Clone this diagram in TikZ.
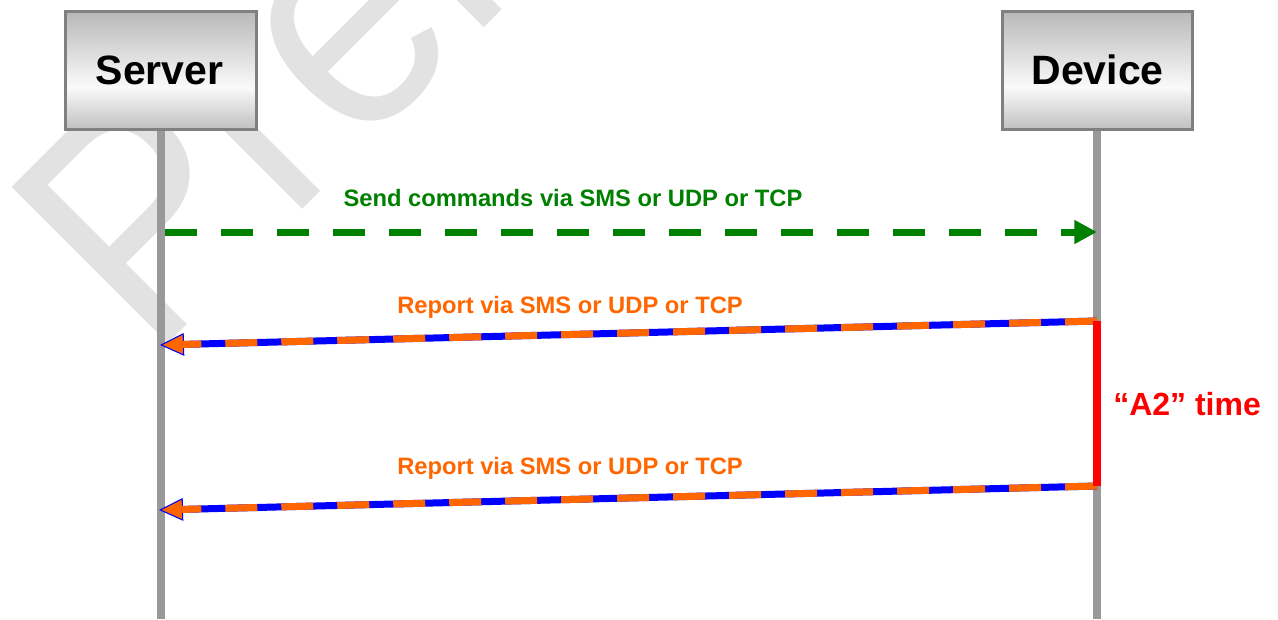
\documentclass[tikz,border=0pt]{standalone}
\usepackage{fontspec}
\setmainfont{Liberation Sans}
\usetikzlibrary{arrows.meta}
\definecolor{wmgray}{RGB}{226,226,226}
\definecolor{lifegray}{RGB}{153,153,153}
\definecolor{boxborder}{RGB}{128,128,128}
\definecolor{cmdgreen}{RGB}{0,128,0}
\definecolor{reporange}{RGB}{255,102,0}
\definecolor{repblue}{RGB}{0,0,255}
\definecolor{a2red}{RGB}{255,0,0}
\definecolor{shT}{RGB}{184,184,184}
\definecolor{shM}{RGB}{250,250,250}
\definecolor{shB}{RGB}{192,192,192}
\pgfdeclareverticalshading{boxshade}{100bp}{color(0bp)=(shB); color(25bp)=(shB); color(43bp)=(shM); color(75bp)=(shT); color(100bp)=(shT)}
\begin{document}
\begin{tikzpicture}[x=0.75pt,y=-0.75pt,
  actor/.style={draw=boxborder, line width=2.2pt, shading=boxshade,
    minimum width=143pt, minimum height=88.5pt, inner sep=0pt,
    font=\fontsize{30.75}{36}\selectfont\bfseries},
  lifeline/.style={draw=lifegray, line width=6pt},
  wm/.style={text=wmgray, inner sep=0pt, font=\fontsize{241}{250}\selectfont},
  cmdlabel/.style={text=cmdgreen, inner sep=0pt, anchor=base, font=\fontsize{17.8}{21}\selectfont\bfseries},
  replabel/.style={text=reporange, inner sep=0pt, anchor=base, font=\fontsize{17.8}{21}\selectfont\bfseries},
  cmdarrow/.style={draw=cmdgreen, line width=5.25pt, dash pattern=on 24pt off 18pt,
    -{Triangle[length=17pt,width=17pt]}},
  repbase/.style={draw=repblue, line width=5.25pt,
    -{Triangle[length=18pt,width=17pt,fill=reporange,line width=0.8pt]}},
  repdash/.style={draw=reporange, line width=5.25pt, dash pattern=on 24pt off 18pt, shorten >=17pt},
  a2line/.style={draw=a2red, line width=6.5pt},
  a2label/.style={text=a2red, inner sep=0pt, anchor=base west, font=\fontsize{24}{28}\selectfont\bfseries}
]
\useasboundingbox (0,0) rectangle (1278,619);
\clip (0,0) rectangle (1278,619);
% watermark
\node[wm, anchor=base west, rotate=45] (wmark) at (151.7,360.3) {\scalebox{0.9}[1]{Preliminary}};
% lifelines
\coordinate (sEnd) at (161,619);
\coordinate (dEnd) at (1097,619);
\coordinate (sTop) at (161,131);
\coordinate (dTop) at (1097,131);
\draw[lifeline] (sTop) -- (sEnd);
\draw[lifeline] (dTop) -- (dEnd);
% actors
\node[actor] (srv) at (161,70.5) {};
\node[actor] (dev) at (1097.5,70.5) {};
\node[inner sep=0pt, anchor=base, font=\fontsize{30.75}{36}\selectfont\bfseries] (srvt) at (159.5,84) {Server};
\node[inner sep=0pt, anchor=base, font=\fontsize{30.75}{36}\selectfont\bfseries] (devt) at (1097.5,84) {Device};
% command arrow
\coordinate (c1) at (165,232);
\coordinate (c2) at (1097,232);
\draw[cmdarrow] (c1) -- (c2);
\node[cmdlabel] (cmdt) at (573,206) {Send commands via SMS or UDP or TCP};
% report 1
\coordinate (r1a) at (1097,321);
\coordinate (r1b) at (160,345);
\draw[repbase] (r1a) -- (r1b);
\draw[repdash] (r1a) -- (r1b);
\node[replabel] (rep1) at (570,313) {Report via SMS or UDP or TCP};
% report 2
\coordinate (r2a) at (1097,486);
\coordinate (r2b) at (159,510);
\draw[repbase] (r2a) -- (r2b);
\draw[repdash] (r2a) -- (r2b);
\node[replabel] (rep2) at (570,474) {Report via SMS or UDP or TCP};
% A2 interval
\draw[a2line] (r1a) -- (r2a);
\node[a2label] (a2) at (1113,415) {“A2” time};
\end{tikzpicture}
\end{document}
